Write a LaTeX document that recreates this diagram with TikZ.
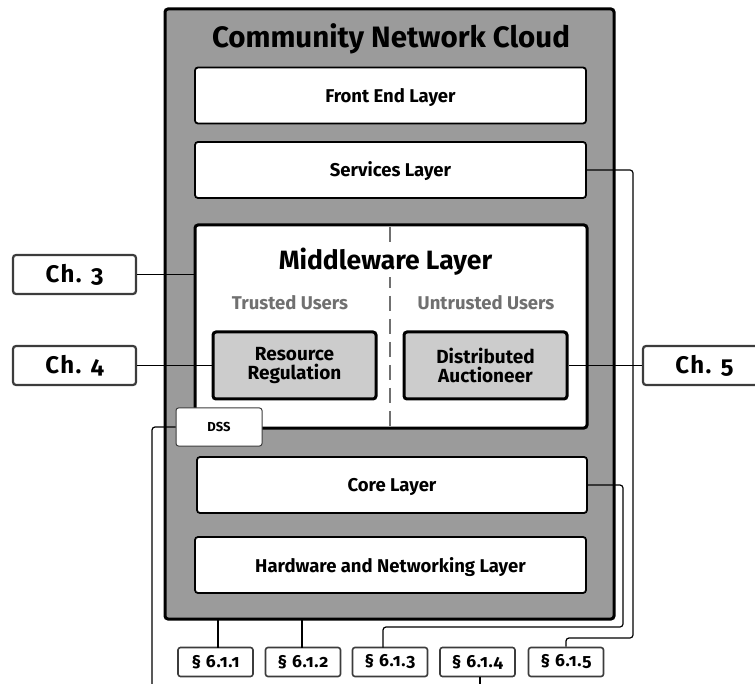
\documentclass[tikz,border=0pt]{standalone}
\usepackage{fontspec}
\setmainfont{Fira Sans}[Numbers=OldStyle]
\usetikzlibrary{positioning, calc}
\definecolor{cloudgray}{HTML}{9B9B9B}
\definecolor{unitgray}{HTML}{CCCCCC}
\definecolor{usergray}{HTML}{707070}
\definecolor{framegray}{HTML}{3C3C3C}

\begin{document}
\begin{tikzpicture}[
    x=1pt, y=-1pt,
    font=\bfseries,
    layer/.style={draw=black, line width=1.8pt, fill=white, rounded corners=3pt,
        minimum width=391pt, minimum height=56pt, text depth=1pt,
        font=\fontsize{18.5}{21}\selectfont\bfseries},
    unit/.style={draw=black, line width=3pt, fill=unitgray, rounded corners=3pt,
        minimum width=163pt, minimum height=67pt, align=center,
        font=\fontsize{19}{19.5}\selectfont\bfseries},
    chbox/.style={draw=framegray, line width=2.2pt, fill=white, rounded corners=3pt,
        minimum width=123pt, minimum height=39pt,
        font=\fontsize{24}{26}\selectfont\bfseries\addfontfeature{LetterSpace=6}},
    secbox/.style={draw=framegray, line width=1.6pt, fill=white, rounded corners=2.5pt,
        minimum width=75pt, minimum height=29pt,
        font=\fontsize{17.5}{19}\selectfont\bfseries\addfontfeature{LetterSpace=4}},
    users/.style={text=usergray, font=\fontsize{18.5}{21}\selectfont\bfseries},
    link/.style={draw=black, line width=1.2pt, rounded corners=3pt},
]
\useasboundingbox (0,0) rectangle (755,684);

% Cloud frame and its layers
\node[draw=black, line width=3pt, fill=cloudgray, rounded corners=3pt,
    minimum width=449pt, minimum height=610pt] (cloud) at (389.5,314) {};
\node[font=\fontsize{29.5}{32}\selectfont\bfseries] (cloudtitle) at (391,38.5)
    {Community Network Cloud};

\node[layer] (frontend) at (390.5,95.5) {Front End Layer};
\node[layer] (services) at (390.5,170) {Services Layer};

\node[draw=black, line width=3pt, fill=white, rounded corners=3pt,
    minimum width=392pt, minimum height=203pt] (middleware) at (391,326.5) {};
\draw[usergray, line width=2pt, dash pattern=on 15pt off 8pt]
    (390,227) -- (390,427);
\node[fill=white, inner sep=1pt, font=\fontsize{26.5}{30}\selectfont\bfseries]
    (middletitle) at (385.5,262) {Middleware Layer};
\node[users] (trusted) at (290,303) {Trusted Users};
\node[users] (untrusted) at (486,303) {Untrusted Users};
\node[unit] (resreg) at (294.5,365.5) {Resource\\Regulation};
\node[unit] (auction) at (485.5,365.5) {Distributed\\Auctioneer};

\node[draw=framegray, line width=1pt, fill=white, rounded corners=2.5pt,
    minimum width=86pt, minimum height=38pt,
    font=\fontsize{13}{15}\selectfont\bfseries] (dss) at (219,427) {DSS};

\node[layer, minimum width=390pt] (core) at (392,485) {Core Layer};
\node[layer] (hardware) at (390.5,565) {Hardware and Networking Layer};

% Chapter boxes
\node[chbox] (ch3) at (74.5,274.5) {Ch. 3};
\node[chbox] (ch4) at (74.5,365.5) {Ch. 4};
\node[chbox] (ch5) at (704.5,365.5) {Ch. 5};

% Section boxes
\node[secbox] (sec1) at (215.5,662) {\S\ 6.1.1};
\node[secbox] (sec2) at (303,662) {\S\ 6.1.2};
\node[secbox] (sec3) at (390,662) {\S\ 6.1.3};
\node[secbox] (sec4) at (477.5,662) {\S\ 6.1.4};
\node[secbox] (sec5) at (566,662) {\S\ 6.1.5};

% Free ends at the lower edge
\coordinate (dssend) at (152,684);
\coordinate (sec4end) at (480,684);

% Connectors
\draw[link] (ch3.east) -- (ch3.east -| middleware.west);
\draw[link] (ch4.east) -- (resreg.west);
\draw[link] (ch5.west) -- (auction.east);
\draw[link] (services.east) -- (633,170) -- (633,638) -- (566,638) -- (sec5.north);
\draw[link] (core.east) -- (623,485) -- (623,627) -- (383,627) -- (383,647.5);
\draw[link] (218,647.5) -- (218,619);
\draw[link] (302,647.5) -- (302,619);
\draw[link] (sec4.south -| sec4end) -- (sec4end);
\draw[link] (dss.west) -- (152,427) -- (dssend);

\end{tikzpicture}
\end{document}
